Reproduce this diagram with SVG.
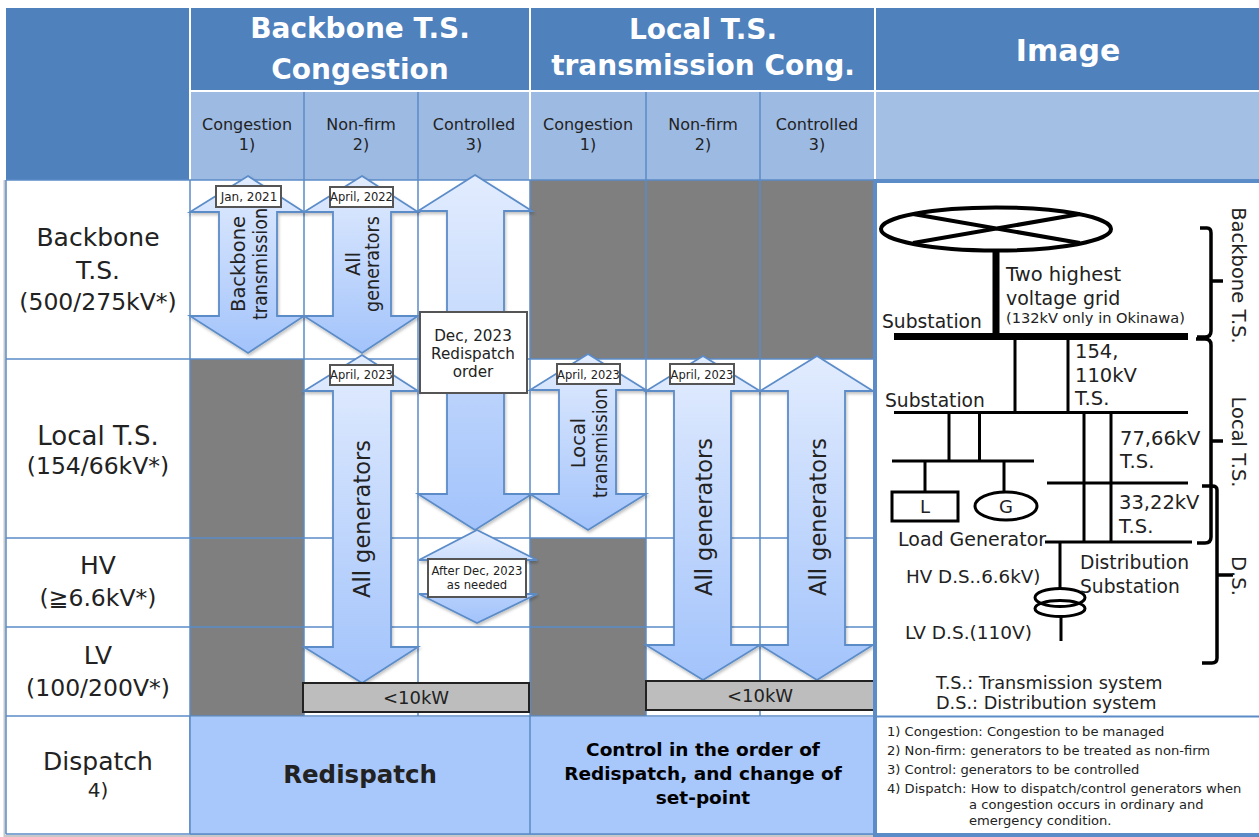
<svg xmlns="http://www.w3.org/2000/svg" width="1259" height="837" viewBox="0 0 1259 837">
<style>
text{font-family:"DejaVu Sans","Liberation Sans",sans-serif;fill:#222;text-anchor:middle}
.hd{fill:#fff;font-weight:bold;font-size:28px}
.sub{font-size:16px;fill:#222}
.row{font-size:25px}
.rs{font-size:23.5px}
.grid{stroke:#5b8cc8;stroke-width:1.5;fill:none}
.arr{fill:url(#ag);stroke:#5b8cc8;stroke-width:1.8;filter:url(#sh)}
.lbl{fill:#fff;stroke:#555;stroke-width:2}
.tag{font-size:12px}
.gray{fill:#7f7f7f}
.bar{fill:#bdbdbd;stroke:#222;stroke-width:2}
.ln{stroke:#000;fill:none}
.it{font-size:19.500px;text-anchor:start}
.note{font-size:13.100px;text-anchor:start}
.lab{font-size:19.500px}
.big{font-size:22.500px}
</style>
<defs>
<linearGradient id="ag" x1="0" y1="0" x2="0" y2="1"><stop offset="0" stop-color="#e2ecfe"/><stop offset="1" stop-color="#a2c3fb"/></linearGradient>
<filter id="sh" x="-10%" y="-10%" width="120%" height="120%"><feDropShadow dx="1" dy="2" stdDeviation="1.5" flood-color="#000" flood-opacity="0.25"/></filter>
</defs>
<rect width="1259" height="837" fill="#fff"/>
<path d="M4.500 180V836H875" fill="none" stroke="#c8c8c8" stroke-width="2"/>
<g id="header">
<rect x="6" y="8" width="1253" height="172" fill="#4f81bd"/>
<rect x="190" y="92" width="1069" height="88" fill="#a4bfe4"/>
<rect x="190" y="92" width="685" height="88" fill="#9dbae2"/>
<path d="M190 91H1259" stroke="#fff" stroke-width="2"/>
<path d="M190 8V180M530 8V180M875 8V180" stroke="#fff" stroke-width="2"/>
<path d="M304 92V180M418 92V180M646 92V180M760 92V180" class="grid"/>
<text class="hd" x="360" y="38">Backbone T.S.</text>
<text class="hd" x="360" y="79">Congestion</text>
<text class="hd" x="703" y="39">Local T.S.</text>
<text class="hd" x="703" y="75">transmission Cong.</text>
<text class="hd" style="font-size:30px" x="1068" y="61">Image</text>
<text class="sub" x="247" y="130">Congestion</text><text class="sub" x="247" y="150">1)</text>
<text class="sub" x="361" y="130">Non-firm</text><text class="sub" x="361" y="150">2)</text>
<text class="sub" x="474" y="130">Controlled</text><text class="sub" x="474" y="150">3)</text>
<text class="sub" x="588" y="130">Congestion</text><text class="sub" x="588" y="150">1)</text>
<text class="sub" x="703" y="130">Non-firm</text><text class="sub" x="703" y="150">2)</text>
<text class="sub" x="817" y="130">Controlled</text><text class="sub" x="817" y="150">3)</text>
</g>
<g id="rows">
<rect class="gray" x="190" y="359" width="114" height="357"/>
<rect class="gray" x="530" y="180" width="345" height="179"/>
<rect class="gray" x="530" y="538" width="116" height="178"/>
<path class="grid" d="M6 180H875M6 359H875M6 538H875M6 627H875M6 716H875M6 834H875M190 180V834M304 180V716M418 180V716M530 180V834M646 180V716M760 180V716M6 180V834"/>
<text class="row" x="98" y="246">Backbone</text><text class="row" x="98" y="279">T.S.</text>
<text class="rs" x="98" y="310">(500/275kV*)</text>
<text class="row" style="font-size:26px" x="98" y="445">Local T.S.</text><text class="rs" x="98" y="474">(154/66kV*)</text>
<text class="row" x="98" y="574">HV</text><text class="rs" x="98" y="606">(≧6.6kV*)</text>
<text class="row" x="98" y="664">LV</text><text class="rs" x="98" y="696">(100/200V*)</text>
<text class="row" x="98" y="770">Dispatch</text><text font-size="20" x="98" y="797">4)</text>
</g>
<g id="dispatch">
<rect x="190" y="717" width="685" height="117" fill="#a8c7fb"/>
<path class="grid" d="M190 716V834M530 716V834M190 834H875"/>
<text x="360" y="783" font-size="24.500" font-weight="bold" fill="#000">Redispatch</text>
<g font-size="18.500" font-weight="bold"><text x="703" y="756" style="fill:#000">Control in the order of</text><text x="703" y="780" style="fill:#000">Redispatch, and change of</text><text x="703" y="804" style="fill:#000">set-point</text></g>
</g>
<g id="connectors">
<path class="arr" d="M248 176L304 212H277V316H304L248 353L190 316H219V212H190Z"/>
<path class="arr" d="M362 176L418 212H391V316H418L362 353L304 316H333V212H304Z"/>
<path class="arr" d="M475 175L532 211H504V494H532L475 530L418 494H447V211H418Z"/>
<path class="arr" d="M477 530L537 560H505V594H537L477 623L419 594H449V560H419Z"/>
<path class="arr" d="M362 355L418 391H391V647H418L362 683L304 647H333V391H304Z"/>
<path class="arr" d="M588 354L646 390H616V494H646L588 530L530 494H559V390H530Z"/>
<path class="arr" d="M703 356L760 391H731V645H760L703 680L646 645H674V391H646Z"/>
<path class="arr" d="M817 356L873 391H845V645H873L817 680L760 645H788V391H760Z"/>
</g>
<g id="labels">
<rect class="lbl" x="216" y="186" width="65" height="21"/><text class="tag" x="249" y="201">Jan, 2021</text>
<rect class="lbl" x="330" y="187" width="63" height="20"/><text class="tag" style="font-size:11.500px" x="361.500" y="201">April, 2022</text>
<rect class="lbl" x="330" y="365" width="63" height="20"/><text class="tag" style="font-size:11.500px" x="361.500" y="379">April, 2023</text>
<rect class="lbl" x="557" y="364" width="63" height="20"/><text class="tag" style="font-size:11.500px" x="588.500" y="379">April, 2023</text>
<rect class="lbl" x="670" y="364" width="64" height="20"/><text class="tag" style="font-size:11.500px" x="702" y="379">April, 2023</text>
<rect class="lbl" x="420" y="312" width="107" height="81"/>
<g font-size="15.200"><text x="473" y="341">Dec, 2023</text><text x="473" y="359">Redispatch</text><text x="473" y="377">order</text></g>
<rect class="lbl" x="428" y="559" width="98" height="38"/>
<g font-size="11.600"><text x="477" y="575">After Dec, 2023</text><text x="477" y="589">as needed</text></g>
<rect class="bar" x="303" y="683" width="226" height="29"/><text x="416" y="704" font-size="18">&lt;10kW</text>
<rect class="bar" x="646" y="681" width="229" height="29"/><text x="760" y="702" font-size="18">&lt;10kW</text>
<text class="lab" transform="translate(245 264) rotate(-90)">Backbone</text>
<text class="lab" transform="translate(267 264) rotate(-90)" textLength="112" lengthAdjust="spacingAndGlyphs">transmission</text>
<text class="lab" transform="translate(360 264) rotate(-90)">All</text>
<text class="lab" transform="translate(379 264) rotate(-90)" textLength="96" lengthAdjust="spacingAndGlyphs">generators</text>
<text class="lab" transform="translate(585 443) rotate(-90)">Local</text>
<text class="lab" transform="translate(607 443) rotate(-90)" textLength="110" lengthAdjust="spacingAndGlyphs">transmission</text>
<text class="big" transform="translate(370 519) rotate(-90)">All generators</text>
<text class="big" transform="translate(712 517) rotate(-90)">All generators</text>
<text class="big" transform="translate(826 517) rotate(-90)">All generators</text>
</g>
<g id="image">
<rect x="875" y="181" width="386" height="654" fill="#fff" stroke="#5b8cc8" stroke-width="4"/>
<path d="M875 716.500H1259" stroke="#5b8cc8" stroke-width="2"/>
<ellipse class="ln" cx="996" cy="229" rx="115" ry="21.500" stroke-width="4"/>
<path class="ln" stroke-width="4" d="M913 214L1080 243M1080 214L913 243"/>
<path class="ln" stroke-width="7" d="M996 250V335M894 336.500H1188"/>
<path class="ln" stroke-width="3" d="M1015 339V412M1068 339V412M894 412.500H1188M949 413V461M979.500 413V461M892 461H1034M925 461V491M1004 461V491M1084 413V541M1111 413V541M1047 483H1188M1045 542H1192M1060 542V588M1061 617V641"/>
<rect class="ln" x="892" y="492" width="66" height="29" stroke-width="3"/>
<ellipse class="ln" cx="1006" cy="506" rx="31" ry="14" stroke-width="3"/>
<ellipse class="ln" cx="1060" cy="597.500" rx="25" ry="9" stroke-width="3"/>
<ellipse class="ln" cx="1060" cy="608.500" rx="25" ry="8" stroke-width="3"/>
<path class="ln" stroke-width="3.500" d="M1200 228H1207Q1211 228 1211 233V331Q1211 337 1205 337H1197M1211 281H1223"/>
<path class="ln" stroke-width="3.500" d="M1196 339H1205Q1211 339 1211 345V537Q1211 543 1205 543H1197M1211 441H1223"/>
<path class="ln" stroke-width="3.500" d="M1202 486H1212Q1217 486 1217 490V658Q1217 663 1212 663H1202M1217 575H1233"/>
<text class="it" x="1006" y="281">Two highest</text>
<text class="it" style="font-size:19px" x="1006" y="305">voltage grid</text>
<text x="1006" y="323" font-size="14.600" style="text-anchor:start">(132kV only in Okinawa)</text>
<text class="it" style="font-size:18.700px" x="882" y="328">Substation</text>
<text class="it" style="font-size:18.700px" x="885" y="407">Substation</text>
<text class="it" x="1075" y="358">154,</text><text class="it" x="1075" y="382">110kV</text><text class="it" x="1075" y="405">T.S.</text>
<text class="it" x="1120" y="445">77,66kV</text><text class="it" x="1120" y="468">T.S.</text>
<text class="it" x="1119" y="509">33,22kV</text><text class="it" x="1119" y="533">T.S.</text>
<text x="925" y="513" font-size="18">L</text><text x="1006" y="513" font-size="18">G</text>
<text class="it" style="font-size:19px" x="898" y="546">Load Generator</text>
<text class="it" style="font-size:18.700px" x="1080" y="569">Distribution</text><text class="it" style="font-size:18.700px" x="1080" y="593">Substation</text>
<text class="it" style="font-size:18.300px" x="906" y="583">HV D.S..6.6kV)</text>
<text class="it" style="font-size:18.500px" x="905" y="639">LV D.S.(110V)</text>
<text class="it" style="font-size:17.700px" x="936" y="689">T.S.: Transmission system</text>
<text class="it" style="font-size:17.700px" x="936" y="709">D.S.: Distribution system</text>
<text class="lab" transform="translate(1232 275.500) rotate(90)">Backbone T.S.</text>
<text class="lab" transform="translate(1232 442) rotate(90)">Local T.S.</text>
<text class="lab" transform="translate(1232 576) rotate(90)">D.S.</text>
<text class="note" x="887" y="736">1) Congestion: Congestion to be managed</text>
<text class="note" x="887" y="755">2) Non-firm: generators to be treated as non-firm</text>
<text class="note" x="887" y="774">3) Control: generators to be controlled</text>
<text class="note" x="887" y="793">4) Dispatch: How to dispatch/control generators when</text>
<text class="note" x="969" y="809">a congestion occurs in ordinary and</text>
<text class="note" x="969" y="825">emergency condition.</text>
</g>
</svg>
